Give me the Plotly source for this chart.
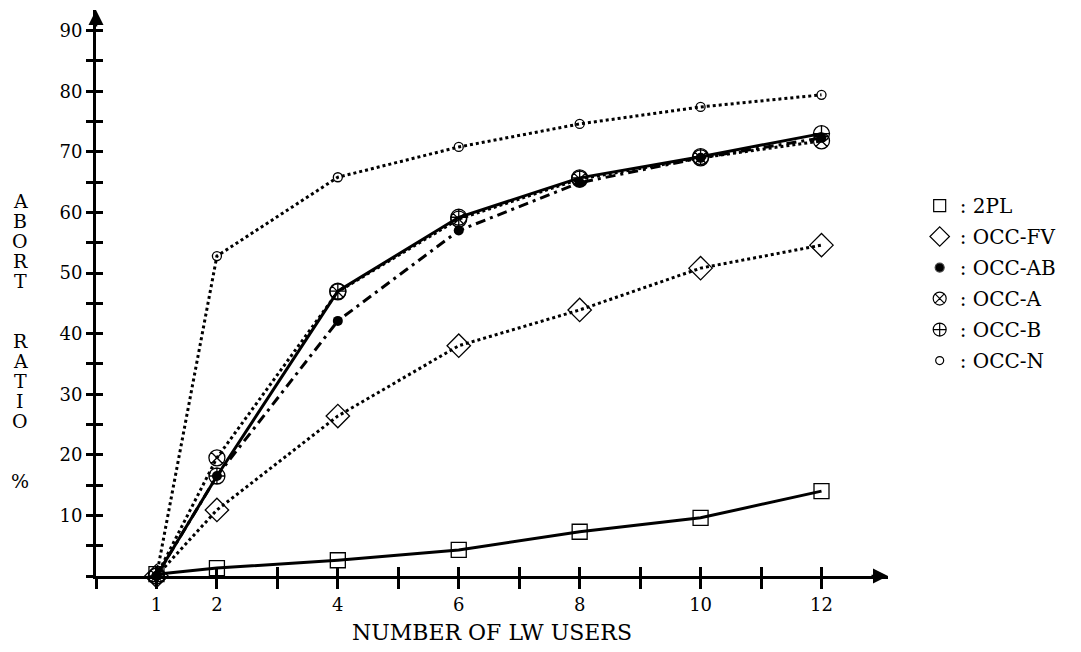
import plotly.graph_objects as go

# Number of LW users (x) and abort ratio in percent (y) for each scheme
users = [1, 2, 4, 6, 8, 10, 12]
abort_2pl = [0.3, 1.3, 2.6, 4.3, 7.3, 9.6, 14.0]
abort_occ_fv = [0.0, 10.9, 26.4, 38.0, 43.9, 50.8, 54.6]
abort_occ_ab = [0.0, 16.5, 42.1, 57.0, 64.9, 69.0, 72.3]
abort_occ_a = [0.0, 19.5, 46.9, 58.9, 65.5, 69.0, 71.8]
abort_occ_b = [0.0, 16.5, 47.0, 59.2, 65.7, 69.2, 73.0]
abort_occ_n = [0.0, 52.8, 65.8, 70.8, 74.6, 77.4, 79.4]

x_tick_vals = list(range(0, 13))
x_tick_text = ["", "1", "2", "", "4", "", "6", "", "8", "", "10", "", "12"]
y_tick_vals = list(range(0, 95, 5))
y_tick_text = ["" if v == 0 or v % 10 else str(v) for v in y_tick_vals]

X_MAX = 13.1
Y_MAX = 93.4

FONT = "DejaVu Serif"
INK = "black"

# name, values, line style, plot marker, legend marker (symbol, size)
series = [
    (": 2PL", abort_2pl, dict(dash="solid", width=3),
     dict(symbol="square-open", size=15, line=dict(width=1.3)), ("square-open", 12)),
    (": OCC-FV", abort_occ_fv, dict(dash="dot", width=3),
     dict(symbol="diamond-open", size=18, line=dict(width=1.3)), ("diamond-open", 15)),
    (": OCC-AB", abort_occ_ab, dict(dash="10px,5px,3px,5px", width=3),
     dict(symbol="circle", size=10, line=dict(width=0)), ("circle", 9)),
    (": OCC-A", abort_occ_a, dict(dash="dot", width=3),
     dict(symbol="circle-x-open", size=16, line=dict(width=1.3)), ("circle-x-open", 13)),
    (": OCC-B", abort_occ_b, dict(dash="solid", width=3),
     dict(symbol="circle-cross-open", size=16, line=dict(width=1.3)), ("circle-cross-open", 13)),
    (": OCC-N", abort_occ_n, dict(dash="dot", width=3),
     dict(symbol="circle-open", size=9, line=dict(width=1.3)), ("circle-open", 8)),
]

fig = go.Figure()

for name, vals, line, marker, _ in series:
    fig.add_trace(go.Scatter(
        x=users, y=vals, mode="lines+markers", name=name,
        line=dict(color=INK, **line),
        marker=dict(color=INK, **marker),
        cliponaxis=False, showlegend=False,
    ))

# Legend entries: marker glyph followed by ": name"
for i, (name, _, _, _, (sym, size)) in enumerate(series):
    fig.add_trace(go.Scatter(
        x=[None], y=[None], mode="markers", name=name,
        marker=dict(color=INK, symbol=sym, size=size, line=dict(width=1.2)),
        legendgroup=f"g{i}", showlegend=True,
    ))

axis_common = dict(
    showgrid=False, zeroline=False, showline=True,
    linecolor=INK, linewidth=3, tickcolor=INK, tickwidth=2.5,
    tickfont=dict(family=FONT, size=18, color=INK),
    tickmode="array",
)

fig.update_layout(
    width=1081, height=652,
    margin=dict(l=96, r=193, t=10, b=76),
    paper_bgcolor="white", plot_bgcolor="white",
    font=dict(family=FONT, color=INK),
    xaxis=dict(
        range=[0, X_MAX], tickvals=x_tick_vals, ticktext=x_tick_text,
        ticks="outside", ticklen=10,
        title=dict(text="NUMBER OF LW USERS", font=dict(family=FONT, size=22, color=INK), standoff=12),
        **axis_common,
    ),
    yaxis=dict(
        range=[0, Y_MAX], tickvals=y_tick_vals, ticktext=y_tick_text,
        ticks="outside", ticklen=7,
        **axis_common,
    ),
    # Overlay axes supply the inner half of each crossing tick
    xaxis2=dict(
        range=[0, X_MAX], overlaying="x", anchor="y", side="bottom",
        tickvals=x_tick_vals, ticks="inside", ticklen=9, showticklabels=False,
        showgrid=False, zeroline=False, showline=False, tickcolor=INK, tickwidth=2.5,
    ),
    yaxis2=dict(
        range=[0, Y_MAX], overlaying="y", anchor="x", side="left",
        tickvals=y_tick_vals, ticks="inside", ticklen=7, showticklabels=False,
        showgrid=False, zeroline=False, showline=False, tickcolor=INK, tickwidth=2.5,
    ),
    legend=dict(
        x=1.04, y=0.689, xanchor="left", yanchor="top",
        font=dict(family=FONT, size=20, color=INK),
        tracegroupgap=2, itemwidth=30, bgcolor="rgba(0,0,0,0)",
    ),
    showlegend=True,
)

# Axis arrowheads
fig.add_annotation(x=X_MAX, y=0, xref="x", yref="y", ax=-18, ay=0,
                   showarrow=True, arrowhead=2, arrowsize=1.2, arrowwidth=2.5,
                   arrowcolor=INK, text="")
fig.add_annotation(x=0, y=Y_MAX, xref="x", yref="y", ax=0, ay=18,
                   showarrow=True, arrowhead=2, arrowsize=1.2, arrowwidth=2.5,
                   arrowcolor=INK, text="")

# Vertical axis caption, one letter per row (blank rows between words)
caption_rows = list("ABORT") + ["", ""] + list("RATIO") + ["", ""] + ["%"]
row_top_px, row_step_px = 201, 20
for k, ch in enumerate(caption_rows):
    if not ch:
        continue
    y_px = row_top_px + k * row_step_px
    fig.add_annotation(
        x=(20 - 96) / 792, y=(576 - y_px) / 566, xref="paper", yref="paper",
        text=ch, showarrow=False, xanchor="center", yanchor="middle",
        font=dict(family=FONT, size=19, color=INK),
    )

# Dummy trace attaches the overlay axes so they render
fig.add_trace(go.Scatter(x=[None], y=[None], xaxis="x2", yaxis="y2", showlegend=False))

fig.write_html("out.html")
